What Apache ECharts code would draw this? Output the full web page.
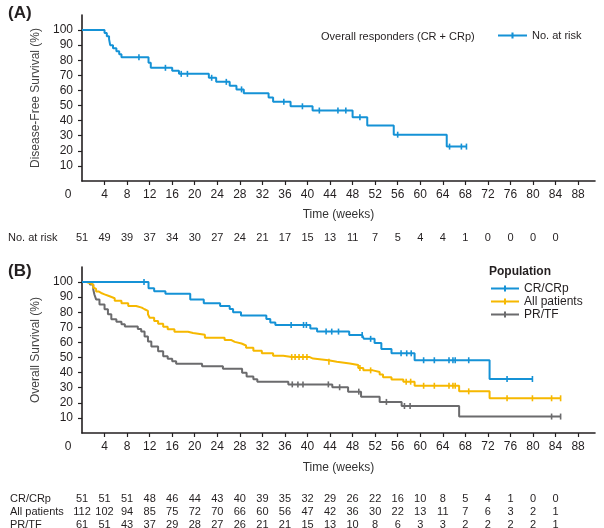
<!DOCTYPE html>
<html><head><meta charset="utf-8">
<script src="https://cdn.jsdelivr.net/npm/echarts@6/dist/echarts.min.js"></script>
<style>html,body{margin:0;padding:0;background:#fff}#c{width:604px;height:528px}</style>
</head><body><div id="c"></div>
<script>
const FONT = "'Liberation Sans', Arial, Helvetica, sans-serif";
const INK = '#231f20';
const BLUE = '#1592d6', YELLOW = '#f6b800', GREY = '#6b6b6d';

const xTicks = [0,4,8,12,16,20,24,28,32,36,40,44,48,52,56,60,64,68,72,76,80,84,88];
const yTicks = [10,20,30,40,50,60,70,80,90,100];
const riskWeeks = [0,4,8,12,16,20,24,28,32,36,40,44,48,52,56,60,64,68,72,76,80,84];

const riskA   = [51,49,39,37,34,30,27,24,21,17,15,13,11,7,5,4,4,1,0,0,0,0];
const riskCR  = [51,51,51,48,46,44,43,40,39,35,32,29,26,22,16,10,8,5,4,1,0,0];
const riskAll = [112,102,94,85,75,72,70,66,60,56,47,42,36,30,22,13,11,7,6,3,2,1];
const riskPR  = [61,51,43,37,29,28,27,26,21,21,15,13,10,8,6,3,3,2,2,2,2,1];

// Panel A: disease-free survival, overall responders
const dfsSteps = [[0,100],[4.0,98],[4.4,96],[4.8,94],[5.0,90],[5.5,88],[6.1,86],[6.6,84],[7.0,82],[11.8,78.4],[12.2,75],[16.0,73],[17.2,71],[22.5,68.4],[23.8,65.7],[26.2,63.2],[27.4,60.7],[28.7,58.2],[33.1,55.3],[33.9,52.5],[37.0,49.5],[40.9,46.7],[48.0,42.2],[50.6,36.8],[55.3,30.7],[64.7,22.8],[68.3,22.8]];
const dfsCensor = [10.1,14.8,17.6,18.7,23.0,25.6,28.3,35.8,39.1,42.1,45.4,46.8,49.3,56.0,65.2,67.3,68.2];

// Panel B: overall survival
const crSteps = [[0,100],[11.8,96],[12.8,94],[14.8,92.2],[19.2,88.5],[21.6,86],[24.5,84.2],[26.2,82.2],[26.8,80],[28.2,77.8],[32.7,75.6],[33.4,73.3],[34.3,71.6],[40.5,69.3],[41.7,67.2],[47.4,64.9],[50.0,62.4],[51.9,59.6],[53.1,55.6],[54.9,52.8],[59.0,48.2],[72.3,35.8],[80.0,35.8]];
const crCensor = [11.0,37.1,39.3,39.8,43.3,44.3,45.5,49.7,51.2,56.6,57.6,58.4,60.6,62.5,65.1,65.8,66.2,68.6,75.4,79.9];

const allSteps = [[0,100],[0.8,99.1],[1.6,98.2],[2.0,96.4],[2.3,95.5],[2.5,93.7],[3.0,92.8],[3.4,91.9],[4.0,90.6],[4.9,89.3],[5.8,87.6],[7.0,86],[8.2,84.2],[9.6,83.1],[10.6,82.0],[11.1,80.9],[11.7,78.7],[12.0,76.4],[12.8,74.2],[13.5,72.4],[14.4,70.4],[15.2,68.7],[16.4,67.1],[18.8,66.3],[19.7,65.1],[21.8,63.1],[25.3,61.6],[26.5,60.4],[27.1,59.3],[28.3,58],[29.1,56.5],[30.4,54.5],[31.9,52.8],[33.9,51.2],[35.7,50.3],[40.4,49.3],[41.0,48.2],[43.7,47.2],[45.2,46.1],[47.5,45],[49.0,43.1],[49.9,41.5],[51.6,40.4],[52.8,38.7],[53.4,36.9],[54.9,35.5],[57.0,34.0],[59.0,31.3],[66.9,27.6],[72.3,23.0],[85.0,23.0]];
const allCensor = [37.2,37.8,38.5,39.2,39.9,43.8,49.3,51.2,57.5,58.3,60.6,62.5,65.1,65.8,66.2,68.6,75.4,79.9,83.3,84.9];

const prSteps = [[0,100],[1.4,98.4],[2.0,95.1],[2.2,91.8],[2.5,88.5],[3.1,85.2],[4.0,82.0],[4.6,78.7],[5.2,75.4],[6.1,73.8],[7.0,72.1],[7.6,70.5],[9.9,68.9],[10.5,67.2],[11.1,64.0],[11.7,60.7],[12.3,57.4],[13.5,54.1],[14.4,50.8],[15.2,49.2],[16.0,47.5],[16.7,45.9],[21.3,44.2],[25.0,42.6],[28.4,40.0],[29.2,37.4],[30.4,35.6],[31.1,33.9],[36.6,32.2],[44.4,30.3],[47.2,27.4],[49.5,24.0],[52.8,20.6],[56.7,17.9],[66.9,10.9],[85.0,10.9]];
const prCensor = [37.3,38.3,39.2,43.7,45.7,49.1,54.0,57.2,58.2,83.3,84.9];

const LEGEND_ICON = 'path://M0,3H13V1H15V3H28V5H15V7H13V5H0Z';

function kmData(steps, censor) {
  const items = steps.map(p => ({ value: [p[0], p[1]], symbol: 'none' }));
  censor.forEach(c => {
    let s = steps[0][1];
    for (const p of steps) { if (p[0] <= c) s = p[1]; }
    items.push({ value: [c, s] });
  });
  items.sort((a, b) => a.value[0] - b.value[0]);
  return items;
}

function mainX(grid, nameGap) {
  return {
    gridIndex: grid, type: 'value', min: 0, max: 91, position: 'bottom',
    name: 'Time (weeks)', nameLocation: 'middle', nameGap,
    nameTextStyle: { fontSize: 12, color: '#333', fontFamily: FONT },
    axisLine: { show: true, onZero: false, lineStyle: { color: INK, width: 1.6 } },
    axisTick: { show: true, customValues: xTicks.filter(v => v > 0), length: 4, lineStyle: { color: INK, width: 1.2 } },
    axisLabel: {
      customValues: xTicks, margin: 8, fontSize: 12, color: INK, fontFamily: FONT,
      formatter: v => v === 0 ? '{z|0}' : String(v),
      rich: { z: { padding: [0, 28, 0, 0], fontSize: 12, color: INK, fontFamily: FONT } }
    },
    splitLine: { show: false }
  };
}
function riskX(grid, offset, arr) {
  return {
    gridIndex: grid, type: 'value', min: 0, max: 91, position: 'bottom', offset,
    axisLine: { show: false }, axisTick: { show: false }, splitLine: { show: false },
    axisLabel: { customValues: riskWeeks, margin: 0, fontSize: 11, color: INK, fontFamily: FONT,
      formatter: v => String(arr[Math.round(v / 4)]) }
  };
}
function mainY(grid, name) {
  return {
    gridIndex: grid, type: 'value', min: 0, max: 110,
    name, nameLocation: 'middle', nameGap: 38, nameRotate: 90,
    nameTextStyle: { fontSize: 12, color: '#444', fontFamily: FONT },
    axisLine: { show: true, lineStyle: { color: INK, width: 1.6 } },
    axisTick: { show: true, customValues: yTicks, length: 4, lineStyle: { color: INK, width: 1.2 } },
    axisLabel: { customValues: yTicks, margin: 9, fontSize: 12, color: INK, fontFamily: FONT },
    splitLine: { show: false }
  };
}
function km(name, xi, yi, color, data, z) {
  return {
    name, type: 'line', xAxisIndex: xi, yAxisIndex: yi, step: 'end',
    symbol: 'rect', symbolSize: [1.6, 6], showSymbol: true, z,
    lineStyle: { color, width: 2 }, itemStyle: { color },
    emphasis: { disabled: true }, data
  };
}
function txt(text, left, top, opts) {
  return { type: 'text', left, top, style: Object.assign({ text, fontSize: 11, fill: INK, fontFamily: FONT }, opts || {}) };
}

const chart = echarts.init(document.getElementById('c'), null, { renderer: 'canvas' });
chart.setOption({
  animation: false,
  backgroundColor: '#fff',
  textStyle: { fontFamily: FONT },
  grid: [
    { left: 82, top: 15, width: 513, height: 166, outerBoundsMode: 'none', containLabel: false },
    { left: 82, top: 267, width: 513, height: 166, outerBoundsMode: 'none', containLabel: false }
  ],
  xAxis: [
    mainX(0, 28), riskX(0, 51, riskA),
    mainX(1, 29), riskX(1, 60, riskCR), riskX(1, 73, riskAll), riskX(1, 86, riskPR)
  ],
  yAxis: [ mainY(0, 'Disease-Free Survival (%)'), mainY(1, 'Overall Survival (%)') ],
  legend: [
    { data: ['No. at risk'], left: 498, top: 30, itemWidth: 29, itemHeight: 8, padding: 0,
      icon: LEGEND_ICON,
      textStyle: { fontSize: 11, color: INK, fontFamily: FONT } },
    { data: ['CR/CRp', 'All patients', 'PR/TF'], orient: 'vertical', left: 491, top: 282,
      itemWidth: 28, itemHeight: 8, itemGap: 0, padding: 0, icon: LEGEND_ICON,
      textStyle: { fontSize: 12, color: INK, fontFamily: FONT, lineHeight: 13 } }
  ],
  graphic: [
    txt('(A)', 8, 5, { fontSize: 17, fontWeight: 'bold' }),
    txt('(B)', 8, 263, { fontSize: 17, fontWeight: 'bold' }),
    txt('Overall responders (CR + CRp)', 321, 31, { fontSize: 11 }),
    txt('Population', 489, 266, { fontSize: 12, fontWeight: 'bold' }),
    txt('No. at risk', 8, 232),
    txt('CR/CRp', 10, 493),
    txt('All patients', 10, 506),
    txt('PR/TF', 10, 519)
  ],
  series: [
    km('No. at risk', 0, 0, BLUE, kmData(dfsSteps, dfsCensor), 3),
    km('PR/TF', 2, 1, GREY, kmData(prSteps, prCensor), 2),
    km('All patients', 2, 1, YELLOW, kmData(allSteps, allCensor), 3),
    km('CR/CRp', 2, 1, BLUE, kmData(crSteps, crCensor), 4)
  ]
});
</script>
</body></html>
